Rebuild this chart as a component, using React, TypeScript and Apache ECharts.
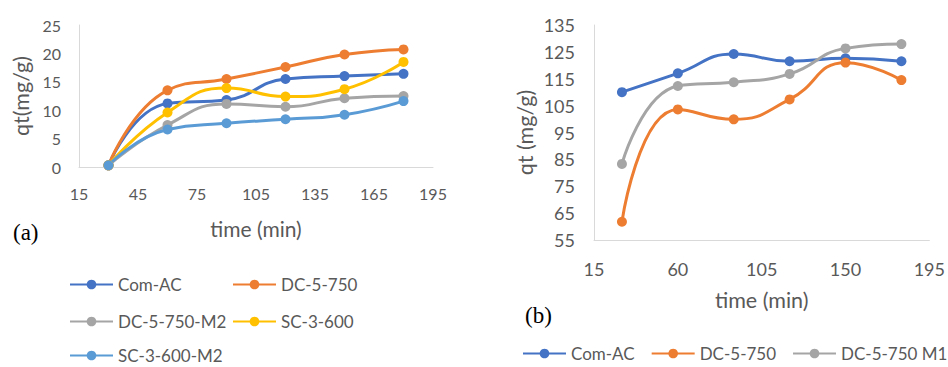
import React, { useEffect, useRef } from "react";
import * as echarts from "echarts";

// Panel (a): adsorption capacity over time, five adsorbents
const timeA = [30, 60, 90, 120, 150, 180];
const comAcA = [0.3, 11.2, 11.8, 15.5, 16.0, 16.4];
const dc5750A = [0.3, 13.5, 15.5, 17.6, 19.8, 20.7];
const dc5750M2A = [0.3, 7.4, 11.1, 10.6, 12.1, 12.5];
const sc3600A = [0.3, 9.6, 13.9, 12.4, 13.7, 18.5];
const sc3600M2A = [0.3, 6.6, 7.7, 8.4, 9.2, 11.6];
const xTicksA = [15, 45, 75, 105, 135, 165, 195];
const yTicksA = [0, 5, 10, 15, 20, 25];

// Panel (b): adsorption capacity over time, three adsorbents
const timeB = [30, 60, 90, 120, 150, 180];
const comAcB = [110, 117, 124.2, 121.5, 122.6, 121.5];
const dc5750B = [61.8, 103.6, 99.9, 107.3, 121, 114.5];
const dc5750M1B = [83.3, 112.3, 113.7, 116.8, 126.3, 127.9];
const xTicksB = [15, 60, 105, 150, 195];
const yTicksB = [55, 65, 75, 85, 95, 105, 115, 125, 135];

const namesA = ["Com-AC", "DC-5-750", "DC-5-750-M2", "SC-3-600", "SC-3-600-M2"];
const namesB = ["Com-AC", "DC-5-750", "DC-5-750 M1"];

const FONT = "Lato, 'Noto Sans', sans-serif";
const TEXT = "#595959";
const AXIS = "#D9D9D9";
const COLORS: Record<string, string> = {
  "Com-AC": "#4472C4",
  "DC-5-750": "#ED7D31",
  "DC-5-750-M2": "#A5A5A5",
  "DC-5-750 M1": "#A5A5A5",
  "SC-3-600": "#FFC000",
  "SC-3-600-M2": "#5B9BD5",
};

function lineSeries(name: string, xs: number[], ys: number[], axis: number) {
  const color = COLORS[name];
  return {
    type: "line",
    name,
    xAxisIndex: axis,
    yAxisIndex: axis,
    data: xs.map((x, i) => [x, ys[i]]),
    smooth: 0.5,
    symbol: "circle",
    symbolSize: 10,
    showSymbol: true,
    lineStyle: { color, width: 3 },
    itemStyle: { color },
    z: 2,
  };
}

function valueAxis(
  min: number,
  max: number,
  ticks: number[],
  fontSize: number,
  margin: number,
  name: string,
  nameSize: number,
  nameGap: number,
  grid: number
) {
  return {
    type: "value",
    gridIndex: grid,
    min,
    max,
    name,
    nameLocation: "middle",
    nameGap,
    nameTextStyle: { color: TEXT, fontSize: nameSize, fontFamily: FONT },
    axisLine: { show: true, lineStyle: { color: AXIS, width: 1 } },
    axisTick: { show: false },
    splitLine: { show: false },
    axisLabel: {
      customValues: ticks,
      color: TEXT,
      fontSize,
      fontFamily: FONT,
      margin,
    },
  };
}

export default function App() {
  const ref = useRef<HTMLDivElement>(null);

  useEffect(() => {
    if (!ref.current) return;
    const chart = echarts.init(ref.current, undefined, { renderer: "svg" });

    const legendText = { color: TEXT, fontSize: 17, fontFamily: FONT };
    // legend slots for panel (a): two columns, three rows
    const slotsA = [
      { left: 69, top: 276 },
      { left: 232, top: 276 },
      { left: 69, top: 313 },
      { left: 232, top: 313 },
      { left: 69, top: 347 },
    ];

    const legendsA = namesA.map((n, i) => ({
      data: [n],
      left: slotsA[i].left,
      top: slotsA[i].top,
      padding: 0,
      itemWidth: 43,
      itemHeight: 12,
      selectedMode: false,
      textStyle: legendText,
    }));

    const labelText = (text: string, x: number, y: number) => ({
      type: "text",
      x,
      y,
      style: {
        text,
        fontSize: 23,
        fontFamily: "'Liberation Serif', serif",
        fill: "#000",
        verticalAlign: "middle",
      },
    });

    chart.setOption({
      animation: false,
      backgroundColor: "#ffffff",
      grid: [
        { left: 79, top: 25, width: 354, height: 142, containLabel: false },
        { left: 594, top: 25, width: 341, height: 215, containLabel: false },
      ],
      xAxis: [
        valueAxis(15, 195, xTicksA, 16, 18, "time (min)", 21, 51, 0),
        valueAxis(15, 195, xTicksB, 18, 20, "time (min)", 21.5, 49, 1),
      ],
      yAxis: [
        valueAxis(0, 25, yTicksA, 16, 18, "qt(mg/g)", 21.5, 47, 0),
        valueAxis(55, 135, yTicksB, 18, 19, "qt (mg/g)", 21.5, 58, 1),
      ],
      legend: [
        ...legendsA,
        {
          data: namesB,
          left: 522,
          top: 345,
          padding: 0,
          width: 426,
          itemWidth: 43,
          itemHeight: 12,
          itemGap: 16,
          selectedMode: false,
          textStyle: legendText,
        },
      ],
      graphic: [labelText("(a)", 13, 232), labelText("(b)", 525, 315)],
      series: [
        lineSeries(namesA[0], timeA, comAcA, 0),
        lineSeries(namesA[1], timeA, dc5750A, 0),
        lineSeries(namesA[2], timeA, dc5750M2A, 0),
        lineSeries(namesA[3], timeA, sc3600A, 0),
        lineSeries(namesA[4], timeA, sc3600M2A, 0),
        lineSeries(namesB[0], timeB, comAcB, 1),
        lineSeries(namesB[1], timeB, dc5750B, 1),
        lineSeries(namesB[2], timeB, dc5750M1B, 1),
      ],
    });

    return () => chart.dispose();
  }, []);

  return (
    <div
      ref={ref}
      style={{ position: "fixed", left: 0, top: 0, width: 948, height: 367 }}
    />
  );
}
